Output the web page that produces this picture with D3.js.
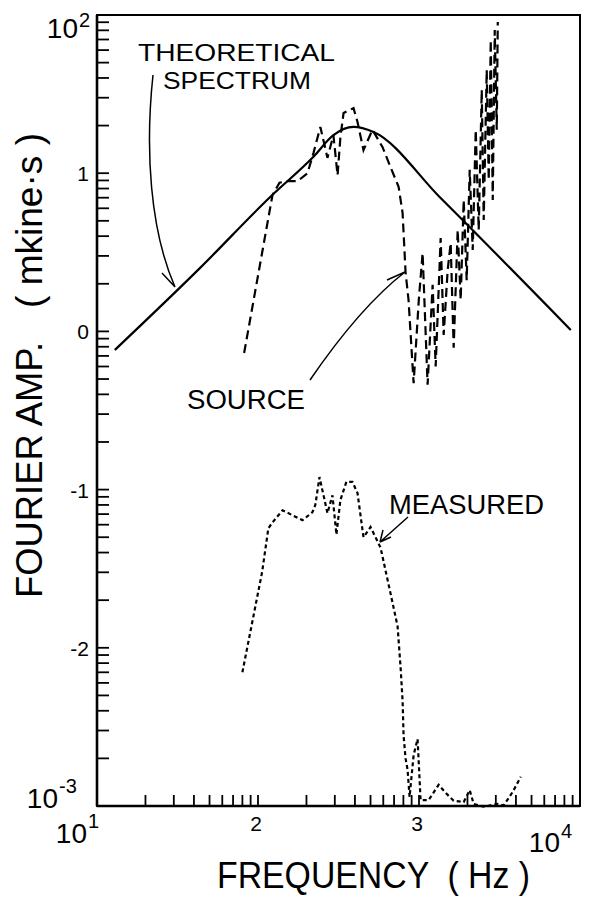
<!DOCTYPE html>
<html>
<head>
<meta charset="utf-8">
<script src="https://cdn.jsdelivr.net/npm/d3@7"></script>
<style>
  body { margin: 0; background: #fff; }
  svg text { font-family: "Liberation Sans", Arial, sans-serif; fill: #000; }
</style>
</head>
<body>
<div id="chart"></div>
<script>
// theoretical source spectrum (solid)
const theoryFreq = [12.9, 43.7, 119, 221, 294, 392, 522, 1362, 8770];
const theoryAmp = [0.763, 2.52, 7.07, 12.7, 17.4, 19.6, 18.2, 6.97, 1.02];

// source spectrum (long dashes)
const sourceFreq = [82, 123, 136, 150, 176, 203, 221, 244, 270, 294, 312, 325, 340, 392, 415,
  452, 514, 594, 666, 747, 791, 825, 861, 926, 997, 1053, 1131, 1215, 1269, 1363, 1423, 1507,
  1573, 1642, 1739, 1815, 1895, 1978, 2065, 2156, 2251, 2349, 2453, 2523, 2634, 2711, 2790,
  2871, 2954, 3041, 3085];
const sourceAmp = [0.73, 7.28, 8.7, 8.9, 8.9, 10.0, 13.4, 19.6, 12.5, 17.4, 9.7, 16.9, 24.0, 25.8, 21.1,
  14.0, 18.8, 14.6, 10.9, 8.2, 5.6, 2.37, 1.58, 0.47, 1.58, 3.13, 0.46, 1.97, 0.60, 3.89, 0.95, 2.44,
  3.62, 0.79, 4.38, 1.58, 6.77, 2.11, 10.5, 3.27, 18.8, 4.38, 33.6, 5.06, 44.9, 9.06, 69.5,
  6.77, 80.4, 18.8, 90.3];

// measured spectrum (short dashes)
const measFreq = [80, 96, 106, 116, 123, 142, 189, 218, 227, 241, 270, 290, 307, 325, 354,
  386, 415, 452, 500, 577, 666, 736, 768, 791, 802, 825, 849, 874, 926, 980, 1023, 1147,
  1324, 1464, 1642, 1895, 2065, 2186, 2523, 3085, 3361, 3823, 4287];
const measAmp = [0.0070, 0.018, 0.030, 0.057, 0.062, 0.074, 0.064, 0.072, 0.080, 0.120, 0.071, 0.092, 0.052, 0.086, 0.112,
  0.112, 0.095, 0.050, 0.058, 0.043, 0.022, 0.0137, 0.0076, 0.0046, 0.0028, 0.0020, 0.0017, 0.00114, 0.0021, 0.00265, 0.00109, 0.00109,
  0.00136, 0.00121, 0.00108, 0.00106, 0.00126, 0.00103, 0.00099, 0.00103, 0.00101, 0.00123, 0.00153];

// tick labels
const yExpLabels = [[10, "1"], [1, "0"], [0.1, "-1"], [0.01, "-2"]];
const xExpLabels = [[100, "2"], [1000, "3"]];

const width = 592, height = 897;
const plotLeft = 97, plotRight = 580, plotTop = 15, plotBottom = 806;

const svg = d3.select("#chart").append("svg")
  .attr("width", width)
  .attr("height", height);

const x = d3.scaleLog().domain([10, 1e4]).range([plotLeft, plotRight]);
const y = d3.scaleLog().domain([1e-3, 1e2]).range([plotBottom, plotTop]);

// frame
svg.append("rect")
  .attr("x", plotLeft).attr("y", plotTop)
  .attr("width", plotRight - plotLeft)
  .attr("height", plotBottom - plotTop)
  .style("fill", "none")
  .style("stroke", "#000")
  .style("stroke-width", "2px");

// heavier left and bottom axis lines
svg.append("line")
  .attr("x1", plotLeft).attr("x2", plotLeft)
  .attr("y1", plotTop).attr("y2", plotBottom)
  .style("stroke", "#000").style("stroke-width", "2.6px");
svg.append("line")
  .attr("x1", plotLeft).attr("x2", plotRight)
  .attr("y1", plotBottom).attr("y2", plotBottom)
  .style("stroke", "#000").style("stroke-width", "2.6px");

// inward ticks
svg.selectAll(".xtick")
  .data(x.ticks())
  .enter()
  .append("line")
  .attr("x1", d => x(d)).attr("x2", d => x(d))
  .attr("y1", plotBottom).attr("y2", plotBottom - 11)
  .style("stroke", "#000").style("stroke-width", "1.8px");

svg.selectAll(".ytick")
  .data(y.ticks())
  .enter()
  .append("line")
  .attr("x1", plotLeft).attr("x2", plotLeft + 12)
  .attr("y1", d => y(d)).attr("y2", d => y(d))
  .style("stroke", "#000").style("stroke-width", "1.8px");

// tick labels
svg.selectAll(".ylab")
  .data(yExpLabels)
  .enter()
  .append("text")
  .attr("x", plotLeft - 8)
  .attr("y", d => y(d[0]) + 8)
  .attr("text-anchor", "end")
  .attr("font-size", 21)
  .text(d => d[1]);

svg.selectAll(".xlab")
  .data(xExpLabels)
  .enter()
  .append("text")
  .attr("x", d => x(d[0]) - 2)
  .attr("y", plotBottom + 25)
  .attr("text-anchor", "middle")
  .attr("font-size", 21)
  .text(d => d[1]);

function powerLabel(xEnd, base, exp, expBase) {
  svg.append("text")
    .attr("x", xEnd).attr("y", base)
    .attr("text-anchor", "end")
    .attr("font-size", 28)
    .text("10");
  svg.append("text")
    .attr("x", xEnd + 1).attr("y", expBase)
    .attr("font-size", 20)
    .text(exp);
}
powerLabel(plotLeft - 19, y(1e2) + 23, "2", y(1e2) + 12);
powerLabel(plotLeft - 39, y(1e-3) + 2, "-3", y(1e-3) - 13);
powerLabel(x(10) - 10, plotBottom + 37, "1", plotBottom + 22);
powerLabel(x(1e4) - 20, plotBottom + 46, "4", plotBottom + 32);

// axis titles
svg.append("text")
  .attr("x", 217).attr("y", 888)
  .attr("font-size", 36)
  .attr("textLength", 313)
  .attr("lengthAdjust", "spacingAndGlyphs")
  .attr("xml:space", "preserve")
  .text("FREQUENCY  ( Hz )");

svg.append("text")
  .attr("transform", "translate(42,598) rotate(-90)")
  .attr("font-size", 37)
  .attr("textLength", 256)
  .attr("lengthAdjust", "spacingAndGlyphs")
  .text("FOURIER AMP.");
svg.append("text")
  .attr("transform", "translate(42,308) rotate(-90)")
  .attr("font-size", 37)
  .attr("textLength", 175)
  .attr("lengthAdjust", "spacingAndGlyphs")
  .attr("xml:space", "preserve")
  .text("( mkine·s )");

// curves
const line = d3.line().x(d => x(d[0])).y(d => y(d[1]));

svg.append("path")
  .datum(d3.zip(theoryFreq, theoryAmp))
  .attr("d", line.curve(d3.curveMonotoneX))
  .style("fill", "none")
  .style("stroke", "#000")
  .style("stroke-width", "2.2px");

svg.append("path")
  .datum(d3.zip(sourceFreq, sourceAmp))
  .attr("d", line.curve(d3.curveLinear))
  .style("fill", "none")
  .style("stroke", "#000")
  .style("stroke-width", "2.2px")
  .style("stroke-dasharray", "9,5");

svg.append("path")
  .datum(d3.zip(measFreq, measAmp))
  .attr("d", line.curve(d3.curveLinear))
  .style("fill", "none")
  .style("stroke", "#000")
  .style("stroke-width", "2.2px")
  .style("stroke-dasharray", "4,3");

// annotations
const note = svg.append("g")
  .style("fill", "none")
  .style("stroke", "#000")
  .style("stroke-width", "1.5px");

note.append("path").attr("d", "M153,75C145,150 150,230 175,287M175,287L162,273");
note.append("path").attr("d", "M310,380Q360,307 405,272M405,272L387,280");
note.append("path").attr("d", "M408,517L380,542M380,542L383,530M380,542L391,537");

[["THEORETICAL", 138, 61, 197, 24], ["SPECTRUM", 163, 89, 148, 24],
 ["SOURCE", 187, 409, 118, 27], ["MEASURED", 389, 514, 155, 27]].forEach(t => {
  svg.append("text")
    .attr("x", t[1]).attr("y", t[2])
    .attr("font-size", t[4])
    .attr("textLength", t[3])
    .attr("lengthAdjust", "spacingAndGlyphs")
    .text(t[0]);
});
</script>
</body>
</html>
